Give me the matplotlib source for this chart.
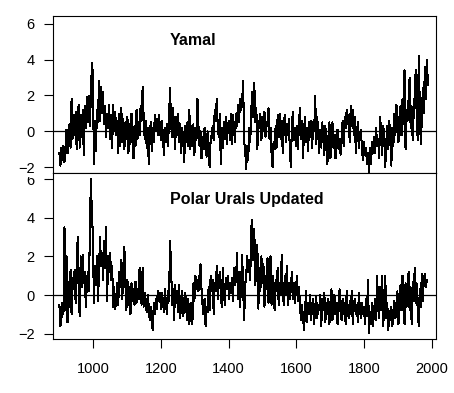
import matplotlib
matplotlib.use("Agg")
import matplotlib.pyplot as plt
import numpy as np
from matplotlib.transforms import Bbox

# values, one every 3 years
yamal_start, yamal_step = 900, 3
yamal = [
    -1.2, -1.9, -0.9, -1.6, -0.8, -1.7, -1.0, 0.1, -1.2, -0.3,
    0.4, -0.9, 1.8, -0.4, 0.9, -0.2, 1.1, -1.0, 0.6, 1.5,
    -0.9, 0.9, -0.3, 1.2, -1.3, 1.4, 0.2, 1.9, 0.5, 2.0,
    0.3, 1.9, 3.8, 3.2, -1.8, 0.6, -1.1, 1.2, 0.5, 2.8,
    0.6, 2.5, 1.0, 2.2, 0.4, 1.4, -0.3, 1.0, 0.2, 1.5,
    -0.4, 0.9, -0.9, 1.5, 0.1, 1.1, -0.2, 0.6, -1.2, 1.0,
    -0.8, 1.3, -0.6, 0.7, -1.0, 0.5, -0.4, 0.8, -1.2, 0.4,
    -0.7, 1.0, -0.5, -1.5, 0.3, -0.8, 1.2, -0.4, 0.5, -0.2,
    1.4, 0.6, 2.5, 0.8, -0.4, 0.6, -0.9, 0.2, -1.8, -0.3,
    0.5, -1.1, 0.2, -0.6, 0.9, 0.1, 0.7, -0.2, 0.9, 0.3,
    -0.5, 0.6, -0.3, -1.3, 0.2, -0.6, 0.4, -0.8, 0.7, 2.4,
    0.5, -0.3, 1.3, 0.2, -1.0, 0.8, -0.2, 1.0, -0.6, 0.4,
    -1.2, 0.2, -0.5, -1.7, 0.3, -0.6, 0.5, -0.8, 1.2, -1.0,
    0.3, -0.8, 0.4, -1.3, 0.2, -0.5, 1.8, 0.3, -0.8, 0.0,
    -1.5, -0.3, -1.0, 0.2, -0.6, -1.4, 0.0, -0.8, -2.0, -0.4,
    -0.2, 0.3, -0.5, 1.2, 0.6, 1.8, 0.2, -0.3, 1.0, -1.8,
    0.2, -0.9, 0.5, -0.4, 0.8, -0.7, 0.3, 0.6, -0.5, 1.0,
    -0.7, 0.9, 0.2, -0.6, 1.0, 0.3, 1.5, 0.5, 1.8, 1.2,
    1.6, 2.8, -0.6, -1.0, -2.1, -0.8, -1.6, 0.2, -0.6, 1.2,
    2.2, 0.8, 2.7, 0.5, 1.3, -1.0, 0.6, 0.2, 1.0, -0.5,
    0.8, 0.1, 1.1, -0.3, 0.5, 0.3, 1.3, -0.4, 0.2, -1.2,
    -2.0, -0.6, -1.0, 0.3, -0.9, 0.9, -0.3, 1.0, -0.4, 0.6,
    -1.2, 0.3, 0.9, -0.6, 0.4, -0.2, 0.7, -1.0, -2.0, 0.3,
    1.1, -0.5, 0.2, -0.8, 0.3, -1.0, 0.5, 1.3, -0.4, 0.6,
    -1.5, 0.1, 0.8, -0.6, 0.2, -1.1, 0.5, -0.3, 0.6, -0.9,
    0.5, 0.0, 2.0, -0.7, 0.8, -0.2, -1.2, 0.1, -0.9, 0.5,
    -0.4, -1.3, 0.3, -0.8, -1.8, -0.3, 0.5, -1.5, -0.2, 0.5,
    -0.9, -0.2, -1.5, -0.5, 0.1, -1.0, -0.4, -1.3, -0.6, 0.6,
    -0.8, 0.8, 0.2, 1.2, 0.4, 0.9, -0.6, 1.4, 0.3, 1.2,
    -0.2, 0.8, -1.2, -0.2, 0.5, -0.9, -0.3, 0.1, -0.9, -1.6,
    -0.6, -1.3, -0.9, -1.8, -1.2, -2.3, -0.9, -1.8, -0.6, -1.2,
    -0.3, -1.2, 0.2, -0.8, -0.4, -1.5, 0.8, -0.2, -1.3, 0.3,
    -0.2, -2.0, -0.6, 0.3, -1.0, 0.6, -0.5, -1.9, 0.2, -0.8,
    1.0, -0.2, 1.5, 0.4, -0.6, 0.8, 1.4, -0.2, 1.8, 0.4,
    3.4, -1.0, 1.2, 0.6, 1.8, 3.0, 0.2, 1.4, -0.5, 1.0,
    2.0, 3.4, 0.8, -0.5, 4.2, 1.5, -0.7, 0.6, 2.4, 1.0,
    3.6, 1.8, 4.0, 2.6,
]

polar_start, polar_step = 900, 3
polar = [
    -0.5, -1.6, -1.2, -0.4, -1.0, 3.5, -0.8, 2.0, -1.4, 0.7,
    -0.6, 1.3, -1.0, 0.9, 0.3, 1.3, -0.4, 0.8, 3.0, 0.2,
    -1.1, 2.0, 0.4, 2.1, 0.6, 1.2, -0.6, 0.5, 1.2, 0.2,
    3.0, 6.0, 4.2, 3.1, -0.4, 1.5, 0.5, 2.0, -0.3, 1.2,
    3.0, 1.5, 2.2, 0.8, 2.8, 1.4, 3.5, -0.3, 2.0, 1.2,
    2.2, 0.8, 1.5, -0.6, 0.4, -0.7, -0.2, 0.6, -0.5, 1.2,
    0.4, 1.8, -0.2, 1.5, 2.5, 0.6, -0.8, 0.8, -0.5, 0.4,
    -1.0, 0.6, -0.3, 0.3, -0.5, 0.7, -0.4, 0.3, -0.2, 1.4,
    0.0, -0.5, 1.4, -0.6, 0.1, -0.3, -0.9, 0.0, -0.6, -1.3,
    -0.6, -1.5, -1.8, -0.4, -1.0, -0.2, -0.7, 0.2, -0.3, 0.1,
    -0.7, 0.1, -0.3, -0.9, 0.3, -0.5, -1.0, 0.2, -0.3, 2.8,
    1.6, -0.5, 0.3, -1.3, 0.5, -0.4, 0.2, -0.9, 0.5, -1.2,
    -0.3, 0.2, -1.1, -0.4, 0.1, -0.8, -1.3, -0.2, -1.5, -0.7,
    -0.4, -1.5, 0.6, -0.3, 1.0, 0.3, 0.8, 0.2, 1.0, 1.6,
    0.3, -0.5, -1.0, -0.2, -1.6, -0.6, -0.9, 0.4, -0.8, 1.0,
    0.2, 0.8, -1.0, 0.6, 0.2, 1.5, -0.2, 0.6, 1.2, 0.0,
    -0.6, 1.4, 0.2, -0.5, 0.9, 0.3, 1.0, -0.2, 0.6, 0.1,
    0.9, -0.3, 1.4, 0.5, 0.8, 2.2, -0.2, 1.2, -0.6, 0.6,
    2.1, 0.4, -1.3, 0.5, 1.0, 2.0, 1.2, 1.8, 0.8, 3.5,
    3.9, 1.8, 3.4, 0.5, 1.5, 2.6, -0.7, 1.4, 0.2, 2.0,
    0.6, 1.6, -0.6, 1.0, 0.3, 1.9, -0.4, 0.9, 2.0, -0.5,
    1.0, 0.3, -0.8, 0.8, 0.2, 1.4, -0.5, 0.6, 0.0, 2.1,
    0.2, -0.5, 1.0, 0.0, 1.5, -0.5, 0.6, -0.2, 0.3, 1.2,
    -0.2, 0.6, -0.4, 0.3, 1.0, -0.3, 0.4, -0.5, -1.3, -0.5,
    -1.2, -1.8, -0.8, 0.2, -1.4, -0.4, -1.0, 0.0, -1.3, -0.5,
    -0.2, -1.5, -0.6, -0.1, -1.2, -0.5, -0.8, 0.0, -1.6, -0.2,
    -0.8, 0.1, -1.4, -0.4, -1.0, -0.2, -1.5, -0.6, 0.3, -1.3,
    -0.5, 0.0, -1.0, -0.4, -1.5, -0.8, 0.3, -0.6, -1.3, -0.2,
    -1.0, -0.4, -1.5, 0.2, -0.8, -1.2, -0.3, -1.0, 0.2, -1.5,
    -0.6, -0.2, -1.0, -0.5, -1.4, 0.1, -0.7, -1.2, -0.4, -1.0,
    -0.6, -1.5, -0.2, -1.1, 0.8, -1.95, -0.9, -1.5, -0.4, -1.6,
    -0.8, -0.2, -1.3, 1.0, -0.6, -1.2, 0.4, -0.8, 1.0, -1.6,
    -0.5, 1.0, -1.2, -0.4, -1.8, -0.8, -1.3, -0.6, -1.6, -0.9,
    -0.3, -1.2, -0.6, 0.2, -1.5, -0.4, 0.5, -0.8, 1.0, -0.2,
    -1.5, 0.6, -0.6, -0.1, 1.2, -0.8, 0.4, -1.5, 0.7, -0.3,
    1.4, -0.4, 0.6, -0.8, -1.6, 0.3, -0.6, 1.1, -0.3, 0.8,
    1.1, 0.4, 0.8,
]

titles = ["Yamal", "Polar Urals Updated"]
x_ticks = [1000, 1200, 1400, 1600, 1800, 2000]
y_ticks = [-2, 0, 2, 4, 6]

plt.rcParams["font.family"] = ["Liberation Sans", "DejaVu Sans"]

W, H = 454, 393
fig = plt.figure(figsize=(W / 100, H / 100), dpi=100)

# panel boxes in pixels: left, right, top, bottom
boxes = [(53.3, 436, 15.7, 173.3), (53.3, 436, 173.3, 339.3)]
ylims = [(-2.33, 6.44), (-2.29, 6.30)]
series = [(yamal_start, yamal_step, yamal), (polar_start, polar_step, polar)]

axes = []
for i, (l, r, t, b) in enumerate(boxes):
    ax = fig.add_axes([l / W, 1 - b / H, (r - l) / W, (b - t) / H])
    start, step, vals = series[i]
    years = start + step * np.arange(len(vals))
    ax.plot(years, vals, color="black", lw=0.75, antialiased=False)
    ax.axhline(0, color="black", lw=0.9)
    ax.set_xlim(882, 2013)
    ax.set_ylim(*ylims[i])
    ax.set_xticks(x_ticks)
    ax.set_yticks(y_ticks)
    ax.tick_params(direction="out", length=6.5, width=0.8, labelsize=10.5, pad=7)
    ax.tick_params(axis="x", pad=10)
    for s in ax.spines.values():
        s.set_linewidth(0.8)
    ax.text(0.305, 0.84, titles[i], transform=ax.transAxes, ha="left",
            va="center", fontsize=11.5, fontweight="bold")
    axes.append(ax)

axes[0].tick_params(axis="x", labelbottom=False)

fig.canvas.draw()
# the two panels overlap at the divider, the labels there are cut off
top_lbl = axes[0].get_yticklabels()[0]
top_lbl.set_clip_box(fig.transFigure.transform_bbox(Bbox([[0, 1 - 173.3 / H], [1, 1]])))
top_lbl.set_clip_on(True)
bot_lbl = axes[1].get_yticklabels()[-1]
bot_lbl.set_clip_box(fig.transFigure.transform_bbox(Bbox([[0, 0], [1, 1 - 176.5 / H]])))
bot_lbl.set_clip_on(True)

fig.savefig("out.png", dpi=100)
